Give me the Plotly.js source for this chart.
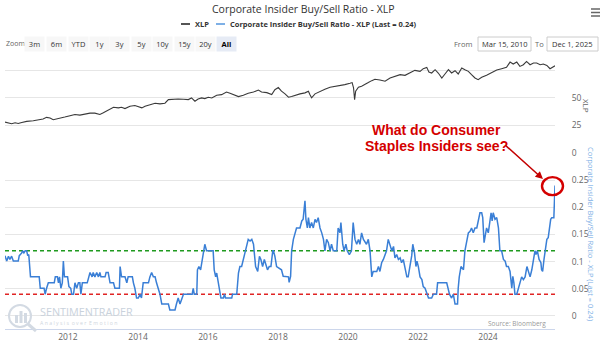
<!DOCTYPE html>
<html>
<head>
<meta charset="utf-8">
<script src="https://cdn.plot.ly/plotly-3.0.1.min.js"></script>
<style>html,body{margin:0;padding:0;background:#fff;}#chart{width:601px;height:349px;}</style>
</head>
<body>
<div id="chart"></div>
<script>
// ---------- DATA (decimal years) ----------
const ratioYears = [
2010.20,2010.25,2010.30,2010.34,2010.39,2010.44,2010.58,2010.61,2010.68,2010.70,2010.74,2010.78,2010.82,2010.85,2010.88,2010.93,
2011.18,2011.21,2011.32,2011.35,2011.39,2011.44,2011.61,2011.64,2011.70,2011.73,2011.76,2011.80,2011.84,2011.87,2011.90,2011.99,
2012.03,2012.08,2012.11,2012.16,2012.20,2012.25,2012.30,2012.34,2012.37,2012.41,2012.55,2012.59,2012.63,2012.69,2012.72,2012.77,2012.82,2012.87,2012.91,2012.94,
2013.06,2013.09,2013.15,2013.20,2013.30,2013.34,2013.47,2013.49,2013.53,2013.63,2013.68,2013.72,2013.84,2013.87,2013.91,2013.96,
2014.01,2014.06,2014.10,2014.15,2014.30,2014.34,2014.39,2014.44,2014.49,2014.53,2014.58,2014.63,2014.68,2014.87,2014.91,
2015.06,2015.10,2015.15,2015.20,2015.25,2015.30,2015.55,2015.58,2015.61,2015.68,2015.70,2015.74,2015.79,2015.84,2015.87,2015.91,2015.96,
2016.15,2016.18,2016.22,2016.25,2016.30,2016.34,2016.37,2016.44,2016.47,2016.50,2016.68,2016.70,2016.82,2016.87,2016.91,2016.96,
2017.01,2017.06,2017.10,2017.15,2017.20,2017.25,2017.30,2017.36,2017.42,2017.47,2017.51,2017.56,2017.61,2017.66,2017.70,2017.75,2017.80,2017.85,2017.87,2017.91,2017.96,
2018.10,2018.15,2018.30,2018.32,2018.36,2018.39,2018.44,2018.49,2018.53,2018.63,2018.68,2018.72,2018.77,2018.80,2018.84,2018.87,2018.91,2018.96,
2019.01,2019.06,2019.10,2019.15,2019.20,2019.25,2019.30,2019.34,2019.39,2019.44,2019.49,2019.53,2019.58,2019.68,2019.72,2019.77,2019.80,2019.85,2019.89,2019.94,2019.98,
2020.04,2020.10,2020.15,2020.20,2020.25,2020.30,2020.34,2020.39,2020.44,2020.53,2020.58,2020.63,2020.68,2020.72,2020.82,2020.87,2020.91,2020.96,
2021.01,2021.06,2021.10,2021.15,2021.20,2021.25,2021.30,2021.34,2021.39,2021.44,2021.49,2021.53,2021.58,2021.63,2021.68,2021.72,2021.77,2021.82,2021.85,2021.90,2021.94,2021.97,
2022.01,2022.06,2022.11,2022.15,2022.20,2022.25,2022.30,2022.39,2022.44,2022.53,2022.56,2022.82,2022.85,2022.90,2022.96,
2023.01,2023.06,2023.13,2023.15,2023.18,2023.23,2023.30,2023.34,2023.39,2023.44,2023.49,2023.53,2023.58,2023.63,2023.68,2023.72,2023.77,2023.82,2023.85,2023.89,2023.91,2023.96,
2024.01,2024.06,2024.09,2024.12,2024.15,2024.20,2024.25,2024.30,2024.34,2024.39,2024.44,2024.49,2024.53,2024.58,2024.63,2024.68,2024.71,2024.74,2024.77,2024.82,2024.87,2024.91,2024.96,
2025.01,2025.06,2025.11,2025.15,2025.20,2025.25,2025.30,2025.34,2025.37,2025.41,2025.46,2025.51,2025.53,2025.56,2025.60,2025.63,2025.68,2025.72,2025.75,2025.79,2025.82,2025.88,2025.915
];
const ratioValues = [
0.111,0.101,0.110,0.104,0.110,0.101,0.101,0.111,0.116,0.120,0.116,0.120,0.120,0.111,0.113,0.072,
0.072,0.051,0.051,0.040,0.051,0.061,0.061,0.072,0.072,0.061,0.072,0.051,0.061,0.101,0.072,0.072,
0.054,0.051,0.040,0.040,0.061,0.051,0.061,0.061,0.040,0.061,0.061,0.072,0.080,0.072,0.080,0.072,0.080,0.072,0.080,0.072,
0.072,0.080,0.080,0.061,0.061,0.051,0.051,0.091,0.072,0.072,0.061,0.072,0.072,0.061,0.051,0.033,
0.033,0.040,0.033,0.061,0.061,0.072,0.080,0.072,0.072,0.061,0.051,0.040,0.022,0.022,0.011,
0.011,0.022,0.033,0.022,0.033,0.040,0.040,0.051,0.040,0.040,0.085,0.091,0.085,0.104,0.111,0.132,0.120,
0.120,0.085,0.072,0.079,0.061,0.040,0.033,0.033,0.040,0.033,0.033,0.040,0.040,0.079,0.091,0.091,
0.104,0.120,0.132,0.141,0.138,0.141,0.132,0.091,0.082,0.110,0.104,0.091,0.104,0.091,0.085,0.091,0.091,0.120,0.120,0.110,0.091,
0.085,0.073,0.072,0.062,0.073,0.120,0.141,0.153,0.162,0.162,0.175,0.178,0.212,0.178,0.162,0.181,0.162,0.172,
0.162,0.178,0.172,0.181,0.162,0.153,0.141,0.120,0.141,0.135,0.120,0.132,0.120,0.120,0.162,0.153,0.172,0.132,0.120,0.132,0.120,
0.113,0.120,0.172,0.141,0.132,0.141,0.132,0.153,0.141,0.132,0.141,0.120,0.072,0.082,0.082,0.091,0.082,0.098,
0.104,0.111,0.120,0.141,0.132,0.120,0.128,0.107,0.113,0.104,0.107,0.098,0.104,0.091,0.072,0.072,0.091,0.111,0.132,0.116,0.091,0.101,
0.091,0.072,0.067,0.054,0.051,0.040,0.033,0.033,0.040,0.040,0.061,0.061,0.051,0.040,0.033,
0.040,0.022,0.022,0.051,0.072,0.091,0.085,0.120,0.141,0.153,0.156,0.162,0.153,0.162,0.162,0.172,0.190,0.190,0.181,0.135,0.144,0.162,
0.153,0.172,0.190,0.175,0.190,0.178,0.181,0.162,0.120,0.120,0.104,0.101,0.091,0.091,0.082,0.051,0.073,0.061,0.040,0.040,0.051,0.061,0.072,
0.067,0.072,0.091,0.082,0.072,0.085,0.104,0.120,0.113,0.120,0.104,0.098,0.085,0.082,0.104,0.120,0.141,0.144,0.159,0.178,0.181,0.181,0.240
];
const xlpYears = [
2010.20,2010.30,2010.39,2010.49,2010.58,2010.68,2010.82,2011.01,2011.20,2011.29,2011.39,2011.49,2011.58,2011.68,2011.77,2011.91,
2012.06,2012.20,2012.34,2012.49,2012.63,2012.77,2012.91,2013.01,2013.15,2013.30,2013.44,2013.53,2013.63,2013.77,2013.91,
2014.01,2014.11,2014.20,2014.34,2014.49,2014.63,2014.77,2014.87,2015.01,2015.15,2015.30,2015.44,2015.53,2015.63,2015.72,2015.82,2015.91,
2016.01,2016.11,2016.25,2016.39,2016.53,2016.63,2016.72,2016.87,2017.01,2017.15,2017.30,2017.44,2017.53,2017.68,2017.82,2017.91,
2018.01,2018.10,2018.20,2018.30,2018.39,2018.49,2018.63,2018.77,2018.87,2018.91,2018.96,2019.06,2019.20,2019.34,2019.49,2019.63,2019.77,2019.91,
2020.06,2020.12,2020.16,2020.19,2020.22,2020.30,2020.39,2020.49,2020.58,2020.68,2020.77,2020.91,2021.06,2021.20,2021.34,2021.49,2021.63,2021.77,2021.91,
2022.06,2022.15,2022.25,2022.31,2022.39,2022.49,2022.58,2022.68,2022.77,2022.87,2022.96,2023.06,2023.15,2023.25,2023.34,2023.44,2023.53,2023.63,2023.72,2023.82,2023.96,
2024.10,2024.25,2024.39,2024.53,2024.63,2024.72,2024.82,2024.91,2025.01,2025.10,2025.20,2025.30,2025.39,2025.49,2025.58,2025.68,2025.77,2025.87,2025.915
];
const xlpValues = [
28.0,27.4,26.5,27.4,26.8,27.7,28.7,29.3,29.9,30.8,32.3,31.7,30.2,30.8,31.7,32.6,
33.8,34.9,34.3,35.5,36.1,36.1,34.9,36.4,39.1,41.5,40.9,41.5,40.3,42.4,43.0,
42.1,40.9,42.4,43.9,45.1,44.5,45.1,48.4,49.0,49.0,48.7,48.4,49.9,46.9,49.0,49.9,49.3,
50.5,49.9,52.3,52.9,55.3,54.1,52.9,51.1,52.3,54.1,55.3,57.1,55.3,54.7,52.9,57.4,
59.3,56.0,53.6,50.6,51.2,52.4,53.6,54.5,56.0,53.0,50.0,53.6,56.0,57.8,59.6,60.2,61.1,62.0,
63.2,63.8,59.0,48.4,56.0,59.6,60.5,62.0,63.8,65.6,66.8,66.2,65.0,68.0,69.8,71.0,70.4,72.5,74.9,
74.0,76.4,77.6,73.4,72.5,75.5,72.5,68.0,71.6,75.5,72.5,74.6,71.6,77.0,75.5,74.0,71.0,68.0,66.5,68.6,70.4,
72.5,75.2,76.4,77.6,82.4,80.6,82.4,78.5,80.0,83.0,80.0,81.5,81.5,80.0,80.6,79.4,76.4,78.5,79.0
];
const upperThreshold = 0.12;
const lowerThreshold = 0.04;
const ratioTicks = [0,0.05,0.1,0.15,0.2,0.25,0.3];
const ratioTickText = ['0','0.05','0.1','0.15','0.2','0.25',''];
const xlpTicks = [0,25,50,75];
const xlpTickText = ['0','25','50',''];
const zoomButtons = ['3m','6m','YTD','1y','3y','5y','10y','15y','20y','All'];
const fromDate = 'Mar 15, 2010', toDate = 'Dec 1, 2025';
const lastRatio = 0.24;

// decimal year -> ISO date (unit conversion only)
function yd(y){const yr=Math.floor(y);const s=Date.UTC(yr,0,1),e=Date.UTC(yr+1,0,1);return new Date(s+(y-yr)*(e-s)).toISOString().slice(0,10);}

const ratioDates = ratioYears.map(yd);
const xlpDates = xlpYears.map(yd);

// axis ranges / domains
const xRangeYears = [2010.2, 2025.915];
const ratioRange = [-0.024, 0.3];
const ratioDomain = [0, 0.647];

// pixel -> paper helpers (plot area: x 5..555, y 57..329)
const PX = p => (p-5)/550;
const PY = p => (329-p)/272;

const FONT = '"Open Sans", "Lucida Grande", Arial, sans-serif';
const BLUE = '#3a7fd6';
const AXBLUE = '#7eb0e6';

const traces = [
 {x: xlpDates, y: xlpValues, xaxis:'x', yaxis:'y2', type:'scatter', mode:'lines', name:'XLP',
  line:{color:'#3a3a3a', width:1.1}, hoverinfo:'skip'},
 {x: ratioDates, y: ratioValues, xaxis:'x', yaxis:'y', type:'scatter', mode:'lines', name:'Corporate Insider Buy/Sell Ratio - XLP',
  line:{color:BLUE, width:1.5}, hoverinfo:'skip'}
];

// paper position of the last ratio point (derived from data and axis ranges)
const nLast = ratioYears.length-1;
const lastXPaper = (ratioYears[nLast]-xRangeYears[0])/(xRangeYears[1]-xRangeYears[0]);
const lastYPaper = ratioDomain[0] + (ratioDomain[1]-ratioDomain[0])*(ratioValues[nLast]-ratioRange[0])/(ratioRange[1]-ratioRange[0]);

const shapes = [
 {type:'line', xref:'paper', x0:0, x1:1, yref:'y', y0:upperThreshold, y1:upperThreshold, line:{color:'#1f9a1f', width:1.4, dash:'4px,3px'}, layer:'below'},
 {type:'line', xref:'paper', x0:0, x1:1, yref:'y', y0:lowerThreshold, y1:lowerThreshold, line:{color:'#e02424', width:1.4, dash:'4px,3px'}, layer:'below'},
 // circle around the last value
 {type:'circle', xref:'paper', yref:'paper', xsizemode:'pixel', ysizemode:'pixel',
  xanchor: lastXPaper, yanchor: lastYPaper,
  x0:-13, x1:8, y0:-9.5, y1:8.5, line:{color:'#d40000', width:2.4}},
 // legend symbols
 {type:'line', xref:'paper', yref:'paper', x0:PX(181), x1:PX(190), y0:PY(24), y1:PY(24), line:{color:'#555', width:2}},
 {type:'line', xref:'paper', yref:'paper', x0:PX(216), x1:PX(225), y0:PY(24), y1:PY(24), line:{color:AXBLUE, width:2}},
 // hamburger
 {type:'line', xref:'paper', yref:'paper', x0:PX(591), x1:PX(600), y0:PY(9), y1:PY(9), line:{color:'#666', width:1.5}},
 {type:'line', xref:'paper', yref:'paper', x0:PX(591), x1:PX(600), y0:PY(12.5), y1:PY(12.5), line:{color:'#666', width:1.5}},
 {type:'line', xref:'paper', yref:'paper', x0:PX(591), x1:PX(600), y0:PY(16), y1:PY(16), line:{color:'#666', width:1.5}},
 // date input boxes
 {type:'rect', xref:'paper', yref:'paper', x0:PX(478), x1:PX(531), y0:PY(51), y1:PY(37), line:{color:'#cccccc', width:1}, fillcolor:'#ffffff'},
 {type:'rect', xref:'paper', yref:'paper', x0:PX(547), x1:PX(598), y0:PY(51), y1:PY(37), line:{color:'#cccccc', width:1}, fillcolor:'#ffffff'},
 // watermark logo
 {type:'circle', xref:'paper', yref:'paper', x0:PX(9), x1:PX(31), y0:PY(327), y1:PY(305), line:{color:'#d3dae3', width:2}},
 {type:'rect', xref:'paper', yref:'paper', x0:PX(15), x1:PX(18), y0:PY(323), y1:PY(315), line:{width:0}, fillcolor:'#d3dae3'},
 {type:'rect', xref:'paper', yref:'paper', x0:PX(19.5), x1:PX(22.5), y0:PY(323), y1:PY(311), line:{width:0}, fillcolor:'#d3dae3'},
 {type:'rect', xref:'paper', yref:'paper', x0:PX(24), x1:PX(27), y0:PY(323), y1:PY(313), line:{width:0}, fillcolor:'#d3dae3'},
 {type:'line', xref:'paper', yref:'paper', x0:PX(28), x1:PX(36), y0:PY(324), y1:PY(331), line:{color:'#d3dae3', width:3}}
];

const ann = [];
function txt(t, x, y, size, color, opts){
  ann.push(Object.assign({text:t, xref:'paper', yref:'paper', x:PX(x), y:PY(y), showarrow:false,
    xanchor:'center', yanchor:'middle', font:{family:FONT, size:size, color:color}}, opts||{}));
}
txt('Corporate Insider Buy/Sell Ratio - XLP', 304, 9, 10.5, '#333333');
txt('<b>XLP</b>', 193, 24, 7.5, '#333333', {xanchor:'left'});
txt('<b>Corporate Insider Buy/Sell Ratio - XLP (Last = ' + lastRatio + ')</b>', 228, 24, 7.5, '#333333', {xanchor:'left'});
txt('Zoom', 4, 44, 7, '#666666', {xanchor:'left'});
const btnX = [34,56,78,99,120,141,162,184,205,226];
zoomButtons.forEach((b,i)=>{
  const sel = b==='All';
  ann.push({text: sel? '<b>'+b+'</b>' : b, xref:'paper', yref:'paper', x:PX(btnX[i]), y:PY(44), showarrow:false,
    xanchor:'center', yanchor:'middle', font:{family:FONT, size:7.5, color: sel?'#000000':'#333333'},
    bgcolor: sel? '#e6ebf5' : '#f7f7f7', borderpad:2, width: 15});
});
txt('From', 463, 44, 7.5, '#666666');
txt(fromDate, 504.5, 44, 7.5, '#333333');
txt('To', 539, 44, 7.5, '#666666');
txt(toDate, 572.5, 44, 7.5, '#333333');
// axis titles (rotated like the reference)
txt('XLP', 587, 106, 8, '#666666', {textangle:90});
txt('Corporate Insider Buy/Sell Ratio - XLP (Last = ' + lastRatio + ')', 591, 234, 7.5, AXBLUE, {textangle:90});
// red callout
txt('<b>What do Consumer</b>', 436, 130, 14, '#d40000', {font:{family:'Liberation Sans, Arial, sans-serif', size:14, color:'#d40000'}});
txt('<b>Staples Insiders see?</b>', 436, 145.5, 14, '#d40000', {font:{family:'Liberation Sans, Arial, sans-serif', size:14, color:'#d40000'}});
ann.push({text:'', xref:'paper', yref:'paper', x:PX(543), y:PY(179), ax:-39, ay:-35, axref:'pixel', ayref:'pixel',
  showarrow:true, arrowhead:2, arrowsize:1, arrowwidth:1.5, arrowcolor:'#c40000', standoff:0, startstandoff:0});
// watermark + source
txt('SENTIMENTRADER', 38, 311.5, 10.8, '#c9d2dc', {xanchor:'left'});
txt('A n a l y s i s  o v e r  E m o t i o n', 38, 322.5, 5.2, '#cfd6de', {xanchor:'left'});
txt('Source: Bloomberg', 548, 323, 6.5, '#999999', {xanchor:'right'});

const layout = {
  width:601, height:349,
  margin:{l:5, r:46, t:57, b:20, pad:0},
  paper_bgcolor:'#ffffff', plot_bgcolor:'#ffffff',
  showlegend:false,
  font:{family:FONT},
  xaxis:{type:'date', range:[yd(xRangeYears[0]), yd(xRangeYears[1])], anchor:'y', showgrid:false, zeroline:false,
    showline:true, linecolor:'#ccd6eb', linewidth:1, ticks:'', tickformat:'%Y', dtick:'M24', tick0:'2012-01-01',
    tickfont:{size:8.5, color:'#666666', family:FONT}},
  yaxis:{domain:ratioDomain, range:ratioRange, side:'right', anchor:'x', tickvals:ratioTicks, ticktext:ratioTickText,
    showgrid:true, gridcolor:'#e6e6e6', gridwidth:1, zeroline:false, ticks:'outside', ticklen:14, tickcolor:'rgba(0,0,0,0)',
    tickfont:{size:8.5, color:'#666666', family:FONT}},
  yaxis2:{domain:[ratioDomain[1],1], range:[0,87], side:'right', anchor:'x', tickvals:xlpTicks, ticktext:xlpTickText,
    showgrid:true, gridcolor:'#e6e6e6', gridwidth:1, zeroline:false, ticks:'outside', ticklen:14, tickcolor:'rgba(0,0,0,0)',
    tickfont:{size:8.5, color:'#666666', family:FONT}},
  shapes: shapes,
  annotations: ann
};

Plotly.newPlot('chart', traces, layout, {displayModeBar:false, staticPlot:true});
</script>
</body>
</html>
